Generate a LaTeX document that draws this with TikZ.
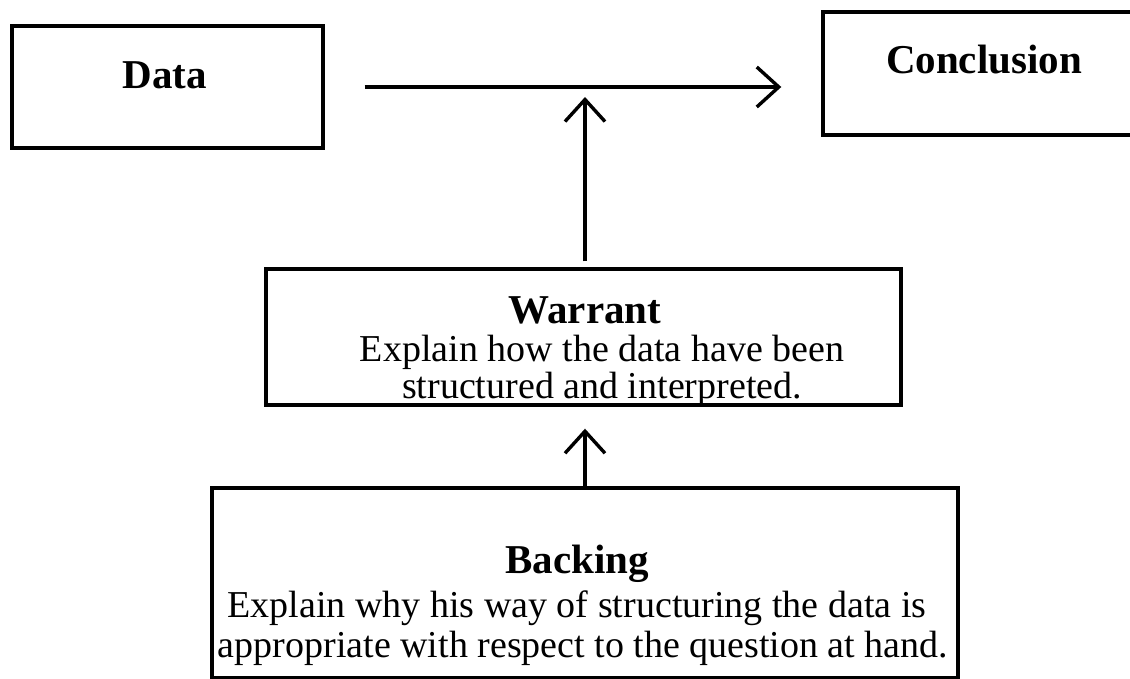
\documentclass[tikz,border=0pt]{standalone}
\usepackage{fontspec}
\setmainfont{Liberation Serif}
\usetikzlibrary{arrows.meta}
\begin{document}
\begin{tikzpicture}[x=1pt,y=-1pt,
  box/.style={draw, line width=3.4pt, rectangle, inner sep=0pt},
  head/.style={font=\fontsize{41}{41}\selectfont\bfseries, anchor=base, inner sep=0pt},
  body/.style={font=\fontsize{38}{38}\selectfont, anchor=base, inner sep=0pt},
  arr/.style={line width=3.4pt, -{Straight Barb[length=22pt,width=40pt,line width=3.4pt]}}]
\useasboundingbox (0,0) rectangle (1130,678);
% boxes
\node[box, minimum width=311pt, minimum height=122pt] (data) at (167.5,87) {};
\node[box, minimum width=320pt, minimum height=123pt] (concl) at (983,73.5) {};
\node[box, minimum width=635pt, minimum height=136pt] (warrant) at (583.5,337) {};
\node[box, minimum width=746pt, minimum height=190pt] (backing) at (585,583) {};
% texts
\node[head] (datat) at (165,88) {Data};
\node[head] (conclt) at (984,73) {Conclusion};
\node[head] (warrantt) at (585,323) {Warrant};
\node[body] (w1) at (602,361) {Explain how the data have been};
\node[body] (w2) at (602,398) {structured and interpreted.};
\node[head] (backingt) at (577,573) {Backing};
\node[body] (b1) at (577,617) {Explain why his way of structuring the data is};
\node[body] (b2) at (583,657) {appropriate with respect to the question at hand.};
% connectors
\coordinate (hstart) at (data.east);
\coordinate (hend) at (data.east -| concl.west);
\coordinate (wtop) at ([xshift=1.5pt]warrant.north);
\coordinate (wbot) at ([xshift=1.5pt]warrant.south);
\coordinate (btop) at (backing.north -| wbot);
\coordinate (hmid) at (hstart -| wtop);
\draw[arr, shorten <=40pt, shorten >=40pt] (hstart) -- (hend);
\draw[arr, shorten <=6pt, shorten >=10pt] (wtop) -- (hmid);
\draw[arr, shorten >=22pt] (btop) -- (wbot);
\end{tikzpicture}
\end{document}
